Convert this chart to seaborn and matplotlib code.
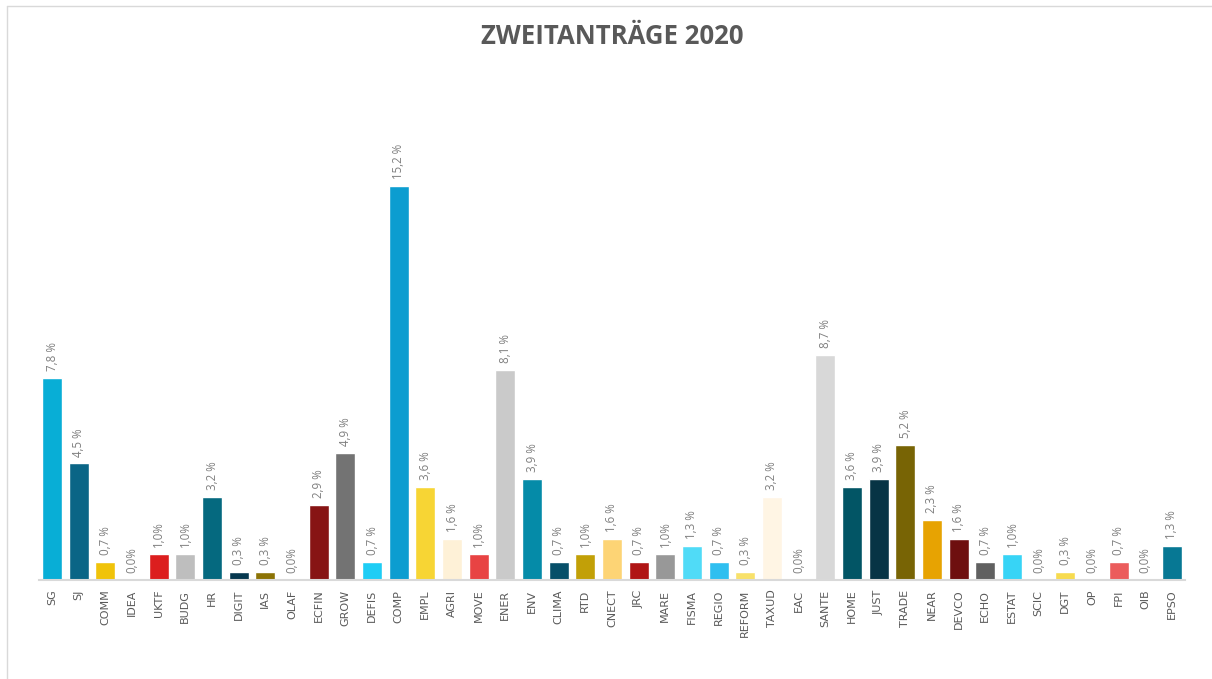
import matplotlib
matplotlib.use("Agg")
import matplotlib.pyplot as plt
import seaborn as sns
import pandas as pd
from matplotlib.lines import Line2D

categories = ["SG", "SJ", "COMM", "IDEA", "UKTF", "BUDG", "HR", "DIGIT", "IAS", "OLAF",
              "ECFIN", "GROW", "DEFIS", "COMP", "EMPL", "AGRI", "MOVE", "ENER", "ENV", "CLIMA",
              "RTD", "CNECT", "JRC", "MARE", "FISMA", "REGIO", "REFORM", "TAXUD", "EAC", "SANTE",
              "HOME", "JUST", "TRADE", "NEAR", "DEVCO", "ECHO", "ESTAT", "SCIC", "DGT", "OP",
              "FPI", "OIB", "EPSO"]
values = [7.8, 4.5, 0.7, 0.0, 1.0, 1.0, 3.2, 0.3, 0.3, 0.0,
          2.9, 4.9, 0.7, 15.2, 3.6, 1.6, 1.0, 8.1, 3.9, 0.7,
          1.0, 1.6, 0.7, 1.0, 1.3, 0.7, 0.3, 3.2, 0.0, 8.7,
          3.6, 3.9, 5.2, 2.3, 1.6, 0.7, 1.0, 0.0, 0.3, 0.0,
          0.7, 0.0, 1.3]
colors = ["#08AED6", "#0A6586", "#F0C30A", "#CCCCCC", "#DC1E1E", "#BEBEBE", "#05697F", "#06384F", "#8C7305", "#CCCCCC",
          "#871414", "#737373", "#1ECDF5", "#0C9DD0", "#F7D534", "#FEF1D7", "#E84343", "#CACACA", "#058BA8", "#064F69",
          "#C2A007", "#FDD475", "#B01515", "#989898", "#50DBF7", "#2FBFF0", "#F8E16A", "#FFF5E4", "#CCCCCC", "#D8D8D8",
          "#025565", "#073445", "#786405", "#E7A302", "#6E0F0F", "#606060", "#37D4F6", "#CCCCCC", "#F7DB4F", "#CCCCCC",
          "#EB5C5C", "#CCCCCC", "#077894"]
title = "ZWEITANTRÄGE 2020"

df = pd.DataFrame({"cat": categories, "val": values})
palette = dict(zip(categories, colors))

sns.set_theme(style="white")
plt.rcParams['font.family'] = ['Open Sans', 'DejaVu Sans']

W, H = 1212, 679
fig = plt.figure(figsize=(W / 100, H / 100), dpi=100)
left_px, right_px = 38.7, 1185.3
base_px = 580
ymax = 18.0
top_px = base_px - ymax * 25.9
ax = fig.add_axes([left_px / W, (H - base_px) / H, (right_px - left_px) / W, (base_px - top_px) / H])

sns.barplot(data=df, x="cat", y="val", hue="cat", palette=palette, order=categories,
            hue_order=categories, width=0.75, legend=False, saturation=1, ax=ax, dodge=False)

ax.set_ylim(0, ymax)
ax.set_xlim(-0.5, len(categories) - 0.5)
ax.set_xlabel("")
ax.set_ylabel("")
ax.set_yticks([])
for s in ["top", "right", "left"]:
    ax.spines[s].set_visible(False)
ax.spines["bottom"].set_color("#D9D9D9")
ax.spines["bottom"].set_linewidth(1.5)
ax.set_xticks(range(len(categories)), labels=categories, rotation=90, va="top", ha="center",
              fontfamily="DejaVu Sans", fontsize=8, color="#595959")
ax.tick_params(axis="x", length=0, pad=7)


def fmt(v):
    s = f"{v:.1f}".replace(".", ",")
    return s + ("%" if s.endswith("0") else " %")


for c in ax.containers:
    labels = [fmt(b.get_height()) for b in c]
    ax.bar_label(c, labels=labels, rotation=90, padding=5, fontsize=8.3, color="#7F7F7F")

fig.text(612 / W, 1 - 37 / H, title, ha="center", va="center", fontsize=18.5,
         fontweight="bold", color="#595959")

# chart frame
fig.add_artist(Line2D([7 / W, 7 / W], [0, 1 - 6 / H], transform=fig.transFigure, color="#D9D9D9", lw=1))
fig.add_artist(Line2D([7 / W, 1], [1 - 6 / H, 1 - 6 / H], transform=fig.transFigure, color="#D9D9D9", lw=1))

fig.savefig("out.png", dpi=100)
